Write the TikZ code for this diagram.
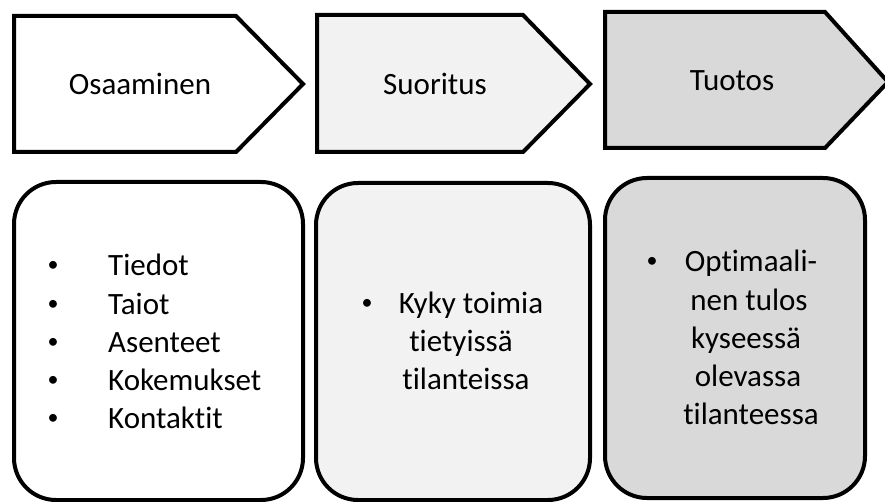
\documentclass[tikz,border=0pt]{standalone}
\usepackage{fontspec}
\setmainfont[Ligatures=NoCommon]{Carlito}
\begin{document}
\begin{tikzpicture}[x=1pt,y=-1pt,
  outline/.style={draw=black,line width=4pt,line join=miter},
  card/.style={draw=black,line width=4pt,rounded corners=42pt},
  txt/.style={inner sep=0pt,anchor=base,font=\fontsize{31}{38}\selectfont},
  lefttxt/.style={txt,anchor=base west},
  dot/.style={inner sep=0pt,anchor=base,font=\fontsize{22}{26}\selectfont}]
\useasboundingbox (0,0) rectangle (885,502);
\definecolor{lightfill}{HTML}{F2F2F2}
\definecolor{midfill}{HTML}{D9D9D9}

% chevrons along the top
\draw[outline,fill=white] (14,16) -- (236,16) -- (303,84) -- (236,152) -- (14,152) -- cycle;
\draw[outline,fill=lightfill] (317,15) -- (523,15) -- (590,84) -- (523,152) -- (317,152) -- cycle;
\draw[outline,fill=midfill] (605,12) -- (825,12) -- (888,82) -- (825,148) -- (605,148) -- cycle;
\node[txt] (h1) at (140,95) {Osaaminen};
\node[txt] (h2) at (435,95) {Suoritus};
\node[txt] (h3) at (732,91) {Tuotos};

% rounded cards below
\draw[card,fill=white] (14,182) rectangle (303,500);
\draw[card,fill=lightfill] (316,183) rectangle (590,500);
\draw[card,fill=midfill] (605,178) rectangle (865,498);

% card 1: list
\foreach \t [count=\i] in {Tiedot,Taiot,Asenteet,Kokemukset,Kontaktit}{
  \node[dot] (b1\i) at (53,234+38*\i) {•};
  \node[lefttxt] (l1\i) at (108,238+38*\i) {\t};
}

% card 2
\node[dot] (b2) at (367,309) {•};
\node[txt] (l21) at (471,313) {Kyky toimia};
\node[txt] (l22) at (461,351) {tietyissä};
\node[txt] (l23) at (466,389) {tilanteissa};

% card 3
\node[dot] (b3) at (652,268) {•};
\node[txt] (l31) at (751,272) {Optimaali-};
\node[txt] (l32) at (749,310) {nen tulos};
\node[txt] (l33) at (746,348) {kyseessä};
\node[txt] (l34) at (748,386) {olevassa};
\node[txt] (l35) at (751,424) {tilanteessa};
\end{tikzpicture}
\end{document}
